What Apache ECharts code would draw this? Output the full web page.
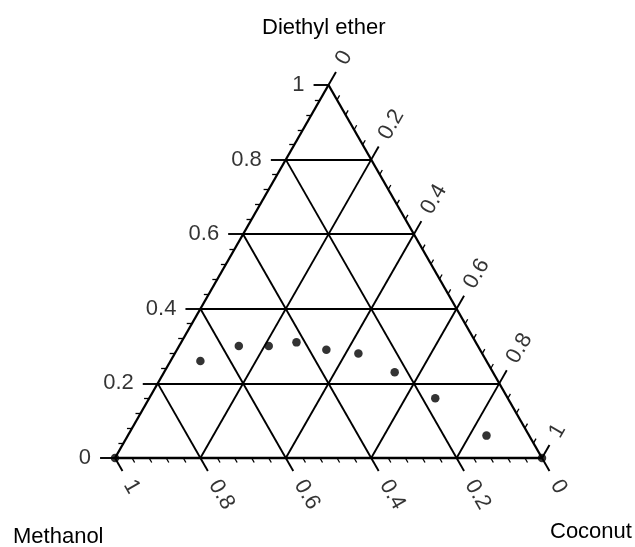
<!DOCTYPE html>
<html>
<head>
<meta charset="utf-8">
<script src="https://cdn.jsdelivr.net/npm/echarts@6/dist/echarts.min.js"></script>
<style>
  html, body { margin: 0; padding: 0; background: #fff; }
  #chart { width: 635px; height: 547px; }
</style>
</head>
<body>
<div id="chart"></div>
<script>
// Phase compositions (fractions); methanol = 1 - coconut - ether
const coconut = [0, 0.07, 0.14, 0.21, 0.27, 0.35, 0.43, 0.54, 0.67, 0.84, 1];
const ether   = [0, 0.26, 0.30, 0.30, 0.31, 0.29, 0.28, 0.23, 0.16, 0.06, 0];
const methanol = coconut.map((c, i) => +(1 - c - ether[i]).toFixed(2));

// Axis ticks
const majorTicks = [0, 0.2, 0.4, 0.6, 0.8, 1];
const tickLabels = ['0', '0.2', '0.4', '0.6', '0.8', '1'];
const minorTicks = [0.04, 0.08, 0.12, 0.16, 0.24, 0.28, 0.32, 0.36, 0.44, 0.48, 0.52, 0.56,
                    0.64, 0.68, 0.72, 0.76, 0.84, 0.88, 0.92, 0.96];
const gridValues = [0.2, 0.4, 0.6, 0.8];

const FONT = '"Liberation Sans", Arial, Helvetica, sans-serif';
const MAJOR = 0.035, MINOR = 0.012;

// ternary (methanol, coconut, ether) -> plane; bottom-left = methanol, bottom-right = coconut, top = ether
function tern(m, c, e) { return [c + e / 2, e]; }

// points along each edge
const leftEdge   = e => tern(1 - e, 0, e);        // ether axis
const rightEdge  = c => tern(0, c, 1 - c);        // coconut axis
const bottomEdge = m => tern(m, 1 - m, 0);        // methanol axis
// tick ends, continuing the grid lines outward
const leftTick   = (e, L) => tern(1 - e + L, -L, e);
const rightTick  = (c, L) => tern(-L, c, 1 - c + L);
const bottomTick = (m, L) => tern(m, 1 - m + L, -L);

const seg = (a, b) => ({ coords: [a, b] });

const frame = [
  seg(tern(1, 0, 0), tern(0, 1, 0)),
  seg(tern(0, 1, 0), tern(0, 0, 1)),
  seg(tern(0, 0, 1), tern(1, 0, 0))
];

const gridLines = [];
gridValues.forEach(v => {
  gridLines.push(seg(leftEdge(v), tern(0, 1 - v, v)));        // constant ether
  gridLines.push(seg(bottomEdge(1 - v), rightEdge(v)));       // constant coconut
  gridLines.push(seg(bottomEdge(v), leftEdge(1 - v)));        // constant methanol
});

const majorTickSegs = [];
majorTicks.forEach(v => {
  majorTickSegs.push(seg(leftEdge(v), leftTick(v, MAJOR)));
  majorTickSegs.push(seg(rightEdge(v), rightTick(v, MAJOR)));
  majorTickSegs.push(seg(bottomEdge(v), bottomTick(v, MAJOR)));
});
const minorTickSegs = [];
minorTicks.forEach(v => {
  minorTickSegs.push(seg(leftEdge(v), leftTick(v, MINOR)));
  minorTickSegs.push(seg(rightEdge(v), rightTick(v, MINOR)));
  minorTickSegs.push(seg(bottomEdge(v), bottomTick(v, MINOR)));
});

const samplePoints = methanol.map((m, i) => tern(m, coconut[i], ether[i]));

function labelSeries(name, fn, rotate, align, offset) {
  return {
    type: 'scatter', name, silent: true, clip: false,
    symbolSize: 1, itemStyle: { color: 'rgba(0,0,0,0)' },
    data: majorTicks.map((v, i) => ({ value: fn(v, MAJOR), name: tickLabels[i] })),
    label: {
      show: true, position: 'inside', formatter: p => p.name,
      rotate, align, verticalAlign: 'middle', offset,
      color: '#000', fontFamily: FONT, fontSize: 22
    },
    emphasis: { disabled: true }
  };
}

const lineStyle = (w) => ({ color: '#000', width: w, opacity: 1 });

const chart = echarts.init(document.getElementById('chart'), null, { renderer: 'canvas' });
chart.setOption({
  animation: false,
  backgroundColor: '#fff',
  grid: { left: 115, right: 93, top: 85, bottom: 89 },
  xAxis: { type: 'value', min: 0, max: 1, show: false },
  yAxis: { type: 'value', min: 0, max: 1, show: false },
  graphic: [
    { type: 'text', left: 262, top: 17, style: { text: 'Diethyl ether', font: '22px ' + FONT, fill: '#000' } },
    { type: 'text', left: 13, top: 526, style: { text: 'Methanol', font: '22px ' + FONT, fill: '#000' } },
    { type: 'text', left: 550, top: 521, style: { text: 'Coconut', font: '22px ' + FONT, fill: '#000' } }
  ],
  series: [
    { type: 'lines', coordinateSystem: 'cartesian2d', silent: true, clip: false,
      lineStyle: lineStyle(1.9), data: gridLines },
    { type: 'lines', coordinateSystem: 'cartesian2d', silent: true, clip: false,
      lineStyle: lineStyle(2.3), data: frame },
    { type: 'lines', coordinateSystem: 'cartesian2d', silent: true, clip: false,
      lineStyle: lineStyle(1.9), data: majorTickSegs },
    { type: 'lines', coordinateSystem: 'cartesian2d', silent: true, clip: false,
      lineStyle: lineStyle(1.3), data: minorTickSegs },
    labelSeries('ether ticks', leftTick, 0, 'right', [-9, 0]),
    labelSeries('coconut ticks', rightTick, 60, 'left', [10, 0]),
    labelSeries('methanol ticks', bottomTick, -60, 'left', [12, 0]),
    { type: 'scatter', name: 'samples', silent: true, clip: false,
      symbol: 'circle', symbolSize: 8.5, itemStyle: { color: '#000' },
      data: samplePoints }
  ]
});
</script>
</body>
</html>
